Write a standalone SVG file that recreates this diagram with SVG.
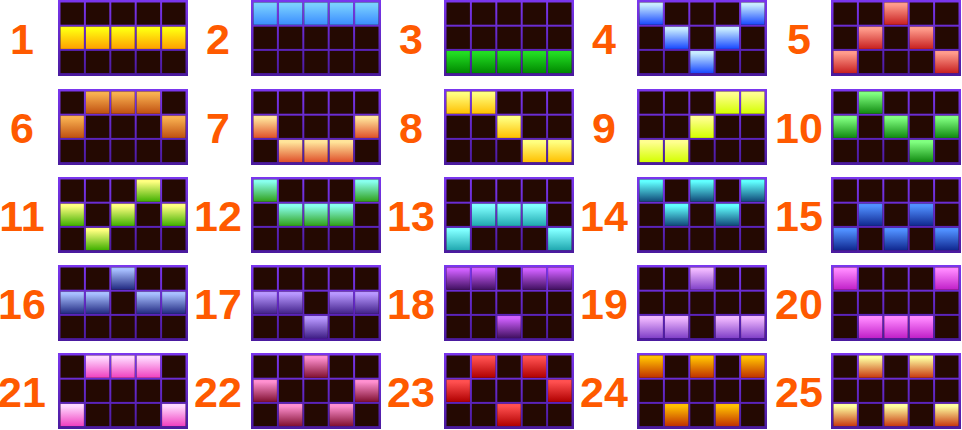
<svg xmlns="http://www.w3.org/2000/svg" xmlns:xlink="http://www.w3.org/1999/xlink" width="962" height="430" viewBox="0 0 962 430">
<style>
.num{font-family:"Liberation Sans",Arial,sans-serif;font-weight:bold;font-size:43px;fill:#ff5a00;text-anchor:middle}
.cell{fill:#240902}
</style>
<defs>
<linearGradient id="frame" x1="0" y1="0" x2="0" y2="1"><stop offset="0" stop-color="#7a36ee"/><stop offset="1" stop-color="#4a1a9e"/></linearGradient>
<linearGradient id="g1" x1="0" y1="0" x2="0" y2="1"><stop offset="0.1" stop-color="#ffff10"/><stop offset="1" stop-color="#ffa000"/></linearGradient>
<linearGradient id="g2" x1="0" y1="0" x2="0" y2="1"><stop offset="0.1" stop-color="#7ad0ff"/><stop offset="1" stop-color="#3a8cff"/></linearGradient>
<linearGradient id="g3" x1="0" y1="0" x2="0" y2="1"><stop offset="0.1" stop-color="#22dc22"/><stop offset="1" stop-color="#008800"/></linearGradient>
<linearGradient id="g4" x1="0" y1="0" x2="0" y2="1"><stop offset="0.1" stop-color="#c8ecff"/><stop offset="1" stop-color="#1848ff"/></linearGradient>
<linearGradient id="g5" x1="0" y1="0" x2="0" y2="1"><stop offset="0.1" stop-color="#ff9c8c"/><stop offset="1" stop-color="#c82020"/></linearGradient>
<linearGradient id="g6" x1="0" y1="0" x2="0" y2="1"><stop offset="0.1" stop-color="#f8b050"/><stop offset="1" stop-color="#c05010"/></linearGradient>
<linearGradient id="g7" x1="0" y1="0" x2="0" y2="1"><stop offset="0.1" stop-color="#ffe49a"/><stop offset="1" stop-color="#e0502a"/></linearGradient>
<linearGradient id="g8" x1="0" y1="0" x2="0" y2="1"><stop offset="0.1" stop-color="#ffff80"/><stop offset="1" stop-color="#ffc000"/></linearGradient>
<linearGradient id="g9" x1="0" y1="0" x2="0" y2="1"><stop offset="0.1" stop-color="#ffff90"/><stop offset="1" stop-color="#d4ff00"/></linearGradient>
<linearGradient id="g10" x1="0" y1="0" x2="0" y2="1"><stop offset="0.1" stop-color="#80ff80"/><stop offset="1" stop-color="#108a10"/></linearGradient>
<linearGradient id="g11" x1="0" y1="0" x2="0" y2="1"><stop offset="0.1" stop-color="#ffff80"/><stop offset="1" stop-color="#40b000"/></linearGradient>
<linearGradient id="g12" x1="0" y1="0" x2="0" y2="1"><stop offset="0.1" stop-color="#88ffee"/><stop offset="1" stop-color="#30a018"/></linearGradient>
<linearGradient id="g13" x1="0" y1="0" x2="0" y2="1"><stop offset="0.1" stop-color="#80ffff"/><stop offset="1" stop-color="#20a8b0"/></linearGradient>
<linearGradient id="g14" x1="0" y1="0" x2="0" y2="1"><stop offset="0.1" stop-color="#60ffff"/><stop offset="1" stop-color="#104878"/></linearGradient>
<linearGradient id="g15" x1="0" y1="0" x2="0" y2="1"><stop offset="0.1" stop-color="#5090ff"/><stop offset="1" stop-color="#102890"/></linearGradient>
<linearGradient id="g16" x1="0" y1="0" x2="0" y2="1"><stop offset="0.1" stop-color="#a8c0ff"/><stop offset="1" stop-color="#202880"/></linearGradient>
<linearGradient id="g17" x1="0" y1="0" x2="0" y2="1"><stop offset="0.1" stop-color="#b898ff"/><stop offset="1" stop-color="#402088"/></linearGradient>
<linearGradient id="g18" x1="0" y1="0" x2="0" y2="1"><stop offset="0.1" stop-color="#d060ff"/><stop offset="1" stop-color="#401060"/></linearGradient>
<linearGradient id="g19" x1="0" y1="0" x2="0" y2="1"><stop offset="0.1" stop-color="#f0b8ff"/><stop offset="1" stop-color="#8040c8"/></linearGradient>
<linearGradient id="g20" x1="0" y1="0" x2="0" y2="1"><stop offset="0.1" stop-color="#ff88ff"/><stop offset="1" stop-color="#c020c8"/></linearGradient>
<linearGradient id="g21" x1="0" y1="0" x2="0" y2="1"><stop offset="0.1" stop-color="#ffd8ff"/><stop offset="1" stop-color="#f040c0"/></linearGradient>
<linearGradient id="g22" x1="0" y1="0" x2="0" y2="1"><stop offset="0.1" stop-color="#ff90d0"/><stop offset="1" stop-color="#801030"/></linearGradient>
<linearGradient id="g23" x1="0" y1="0" x2="0" y2="1"><stop offset="0.1" stop-color="#ff5050"/><stop offset="1" stop-color="#b00000"/></linearGradient>
<linearGradient id="g24" x1="0" y1="0" x2="0" y2="1"><stop offset="0.1" stop-color="#ffc000"/><stop offset="1" stop-color="#c03000"/></linearGradient>
<linearGradient id="g25" x1="0" y1="0" x2="0" y2="1"><stop offset="0.1" stop-color="#ffffa0"/><stop offset="1" stop-color="#c83810"/></linearGradient>
<rect id="lit" width="23.4" height="22.2"/>
<g id="base">
<rect width="130" height="76" fill="url(#frame)"/>
<rect class="cell" x="2.5" y="2.5" width="23.4" height="22.2"/><rect class="cell" x="27.9" y="2.5" width="23.4" height="22.2"/><rect class="cell" x="53.3" y="2.5" width="23.4" height="22.2"/><rect class="cell" x="78.7" y="2.5" width="23.4" height="22.2"/><rect class="cell" x="104.1" y="2.5" width="23.4" height="22.2"/>
<rect class="cell" x="2.5" y="26.7" width="23.4" height="22.2"/><rect class="cell" x="27.9" y="26.7" width="23.4" height="22.2"/><rect class="cell" x="53.3" y="26.7" width="23.4" height="22.2"/><rect class="cell" x="78.7" y="26.7" width="23.4" height="22.2"/><rect class="cell" x="104.1" y="26.7" width="23.4" height="22.2"/>
<rect class="cell" x="2.5" y="50.9" width="23.4" height="22.2"/><rect class="cell" x="27.9" y="50.9" width="23.4" height="22.2"/><rect class="cell" x="53.3" y="50.9" width="23.4" height="22.2"/><rect class="cell" x="78.7" y="50.9" width="23.4" height="22.2"/><rect class="cell" x="104.1" y="50.9" width="23.4" height="22.2"/>
</g>
</defs>
<rect width="962" height="430" fill="#ffffff"/>
<g id="labels">
<text class="num" x="22" y="54">1</text><text class="num" x="218" y="54">2</text><text class="num" x="411" y="54">3</text><text class="num" x="604" y="54">4</text><text class="num" x="799" y="54">5</text>
<text class="num" x="22" y="143">6</text><text class="num" x="218" y="143">7</text><text class="num" x="411" y="143">8</text><text class="num" x="604" y="143">9</text><text class="num" x="799" y="143">10</text>
<text class="num" x="22" y="231">11</text><text class="num" x="218" y="231">12</text><text class="num" x="411" y="231">13</text><text class="num" x="604" y="231">14</text><text class="num" x="799" y="231">15</text>
<text class="num" x="22" y="319">16</text><text class="num" x="218" y="319">17</text><text class="num" x="411" y="319">18</text><text class="num" x="604" y="319">19</text><text class="num" x="799" y="319">20</text>
<text class="num" x="22" y="407">21</text><text class="num" x="218" y="407">22</text><text class="num" x="411" y="407">23</text><text class="num" x="604" y="407">24</text><text class="num" x="799" y="407">25</text>
</g>
<g id="line1" transform="translate(58,0)"><use href="#base"/><g fill="url(#g1)"><use href="#lit" x="2.5" y="26.7"/><use href="#lit" x="27.9" y="26.7"/><use href="#lit" x="53.3" y="26.7"/><use href="#lit" x="78.7" y="26.7"/><use href="#lit" x="104.1" y="26.7"/></g></g>
<g id="line2" transform="translate(251,0)"><use href="#base"/><g fill="url(#g2)"><use href="#lit" x="2.5" y="2.5"/><use href="#lit" x="27.9" y="2.5"/><use href="#lit" x="53.3" y="2.5"/><use href="#lit" x="78.7" y="2.5"/><use href="#lit" x="104.1" y="2.5"/></g></g>
<g id="line3" transform="translate(444,0)"><use href="#base"/><g fill="url(#g3)"><use href="#lit" x="2.5" y="50.9"/><use href="#lit" x="27.9" y="50.9"/><use href="#lit" x="53.3" y="50.9"/><use href="#lit" x="78.7" y="50.9"/><use href="#lit" x="104.1" y="50.9"/></g></g>
<g id="line4" transform="translate(637,0)"><use href="#base"/><g fill="url(#g4)"><use href="#lit" x="2.5" y="2.5"/><use href="#lit" x="27.9" y="26.7"/><use href="#lit" x="53.3" y="50.9"/><use href="#lit" x="78.7" y="26.7"/><use href="#lit" x="104.1" y="2.5"/></g></g>
<g id="line5" transform="translate(831,0)"><use href="#base"/><g fill="url(#g5)"><use href="#lit" x="2.5" y="50.9"/><use href="#lit" x="27.9" y="26.7"/><use href="#lit" x="53.3" y="2.5"/><use href="#lit" x="78.7" y="26.7"/><use href="#lit" x="104.1" y="50.9"/></g></g>
<g id="line6" transform="translate(58,89)"><use href="#base"/><g fill="url(#g6)"><use href="#lit" x="2.5" y="26.7"/><use href="#lit" x="27.9" y="2.5"/><use href="#lit" x="53.3" y="2.5"/><use href="#lit" x="78.7" y="2.5"/><use href="#lit" x="104.1" y="26.7"/></g></g>
<g id="line7" transform="translate(251,89)"><use href="#base"/><g fill="url(#g7)"><use href="#lit" x="2.5" y="26.7"/><use href="#lit" x="27.9" y="50.9"/><use href="#lit" x="53.3" y="50.9"/><use href="#lit" x="78.7" y="50.9"/><use href="#lit" x="104.1" y="26.7"/></g></g>
<g id="line8" transform="translate(444,89)"><use href="#base"/><g fill="url(#g8)"><use href="#lit" x="2.5" y="2.5"/><use href="#lit" x="27.9" y="2.5"/><use href="#lit" x="53.3" y="26.7"/><use href="#lit" x="78.7" y="50.9"/><use href="#lit" x="104.1" y="50.9"/></g></g>
<g id="line9" transform="translate(637,89)"><use href="#base"/><g fill="url(#g9)"><use href="#lit" x="2.5" y="50.9"/><use href="#lit" x="27.9" y="50.9"/><use href="#lit" x="53.3" y="26.7"/><use href="#lit" x="78.7" y="2.5"/><use href="#lit" x="104.1" y="2.5"/></g></g>
<g id="line10" transform="translate(831,89)"><use href="#base"/><g fill="url(#g10)"><use href="#lit" x="2.5" y="26.7"/><use href="#lit" x="27.9" y="2.5"/><use href="#lit" x="53.3" y="26.7"/><use href="#lit" x="78.7" y="50.9"/><use href="#lit" x="104.1" y="26.7"/></g></g>
<g id="line11" transform="translate(58,177)"><use href="#base"/><g fill="url(#g11)"><use href="#lit" x="2.5" y="26.7"/><use href="#lit" x="27.9" y="50.9"/><use href="#lit" x="53.3" y="26.7"/><use href="#lit" x="78.7" y="2.5"/><use href="#lit" x="104.1" y="26.7"/></g></g>
<g id="line12" transform="translate(251,177)"><use href="#base"/><g fill="url(#g12)"><use href="#lit" x="2.5" y="2.5"/><use href="#lit" x="27.9" y="26.7"/><use href="#lit" x="53.3" y="26.7"/><use href="#lit" x="78.7" y="26.7"/><use href="#lit" x="104.1" y="2.5"/></g></g>
<g id="line13" transform="translate(444,177)"><use href="#base"/><g fill="url(#g13)"><use href="#lit" x="2.5" y="50.9"/><use href="#lit" x="27.9" y="26.7"/><use href="#lit" x="53.3" y="26.7"/><use href="#lit" x="78.7" y="26.7"/><use href="#lit" x="104.1" y="50.9"/></g></g>
<g id="line14" transform="translate(637,177)"><use href="#base"/><g fill="url(#g14)"><use href="#lit" x="2.5" y="2.5"/><use href="#lit" x="27.9" y="26.7"/><use href="#lit" x="53.3" y="2.5"/><use href="#lit" x="78.7" y="26.7"/><use href="#lit" x="104.1" y="2.5"/></g></g>
<g id="line15" transform="translate(831,177)"><use href="#base"/><g fill="url(#g15)"><use href="#lit" x="2.5" y="50.9"/><use href="#lit" x="27.9" y="26.7"/><use href="#lit" x="53.3" y="50.9"/><use href="#lit" x="78.7" y="26.7"/><use href="#lit" x="104.1" y="50.9"/></g></g>
<g id="line16" transform="translate(58,265)"><use href="#base"/><g fill="url(#g16)"><use href="#lit" x="2.5" y="26.7"/><use href="#lit" x="27.9" y="26.7"/><use href="#lit" x="53.3" y="2.5"/><use href="#lit" x="78.7" y="26.7"/><use href="#lit" x="104.1" y="26.7"/></g></g>
<g id="line17" transform="translate(251,265)"><use href="#base"/><g fill="url(#g17)"><use href="#lit" x="2.5" y="26.7"/><use href="#lit" x="27.9" y="26.7"/><use href="#lit" x="53.3" y="50.9"/><use href="#lit" x="78.7" y="26.7"/><use href="#lit" x="104.1" y="26.7"/></g></g>
<g id="line18" transform="translate(444,265)"><use href="#base"/><g fill="url(#g18)"><use href="#lit" x="2.5" y="2.5"/><use href="#lit" x="27.9" y="2.5"/><use href="#lit" x="53.3" y="50.9"/><use href="#lit" x="78.7" y="2.5"/><use href="#lit" x="104.1" y="2.5"/></g></g>
<g id="line19" transform="translate(637,265)"><use href="#base"/><g fill="url(#g19)"><use href="#lit" x="2.5" y="50.9"/><use href="#lit" x="27.9" y="50.9"/><use href="#lit" x="53.3" y="2.5"/><use href="#lit" x="78.7" y="50.9"/><use href="#lit" x="104.1" y="50.9"/></g></g>
<g id="line20" transform="translate(831,265)"><use href="#base"/><g fill="url(#g20)"><use href="#lit" x="2.5" y="2.5"/><use href="#lit" x="27.9" y="50.9"/><use href="#lit" x="53.3" y="50.9"/><use href="#lit" x="78.7" y="50.9"/><use href="#lit" x="104.1" y="2.5"/></g></g>
<g id="line21" transform="translate(58,353)"><use href="#base"/><g fill="url(#g21)"><use href="#lit" x="2.5" y="50.9"/><use href="#lit" x="27.9" y="2.5"/><use href="#lit" x="53.3" y="2.5"/><use href="#lit" x="78.7" y="2.5"/><use href="#lit" x="104.1" y="50.9"/></g></g>
<g id="line22" transform="translate(251,353)"><use href="#base"/><g fill="url(#g22)"><use href="#lit" x="2.5" y="26.7"/><use href="#lit" x="27.9" y="50.9"/><use href="#lit" x="53.3" y="2.5"/><use href="#lit" x="78.7" y="50.9"/><use href="#lit" x="104.1" y="26.7"/></g></g>
<g id="line23" transform="translate(444,353)"><use href="#base"/><g fill="url(#g23)"><use href="#lit" x="2.5" y="26.7"/><use href="#lit" x="27.9" y="2.5"/><use href="#lit" x="53.3" y="50.9"/><use href="#lit" x="78.7" y="2.5"/><use href="#lit" x="104.1" y="26.7"/></g></g>
<g id="line24" transform="translate(637,353)"><use href="#base"/><g fill="url(#g24)"><use href="#lit" x="2.5" y="2.5"/><use href="#lit" x="27.9" y="50.9"/><use href="#lit" x="53.3" y="2.5"/><use href="#lit" x="78.7" y="50.9"/><use href="#lit" x="104.1" y="2.5"/></g></g>
<g id="line25" transform="translate(831,353)"><use href="#base"/><g fill="url(#g25)"><use href="#lit" x="2.5" y="50.9"/><use href="#lit" x="27.9" y="2.5"/><use href="#lit" x="53.3" y="50.9"/><use href="#lit" x="78.7" y="2.5"/><use href="#lit" x="104.1" y="50.9"/></g></g>
</svg>
